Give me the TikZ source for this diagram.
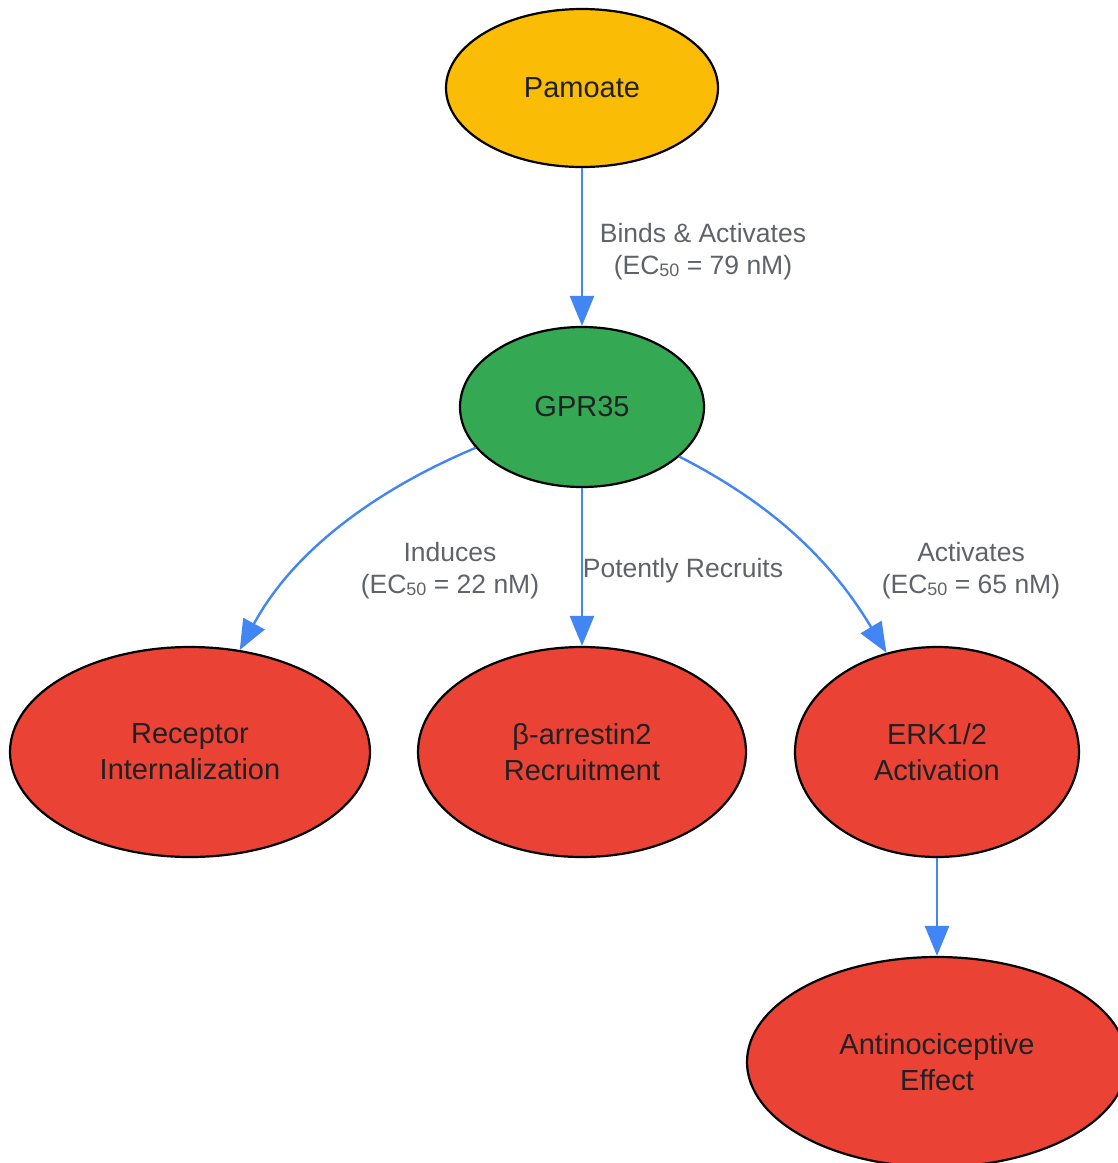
\documentclass[tikz,border=0pt]{standalone}
\usepackage{fontspec}
\setmainfont{Liberation Sans}
\usetikzlibrary{shapes.geometric,arrows.meta}
\tikzset {>={Triangle[length=30pt,width=24pt]}}
\definecolor{gyellow}{HTML}{FBBC05}
\definecolor{ggreen}{HTML}{34A853}
\definecolor{gred}{HTML}{EA4335}
\definecolor{gblue}{HTML}{4285F4}
\definecolor{gtext}{HTML}{202124}
\definecolor{ggray}{HTML}{5F6368}
\newcommand{\ecsub}{EC\raisebox{-1.5pt}{\fontsize{18}{18}\selectfont 50}}
\tikzset{
  ell/.style={ellipse,draw=black,line width=2.2pt,inner sep=0pt,align=center,
    text=gtext,font=\fontsize{29}{36}\selectfont},
  edge/.style={->,draw=gblue,line width=2.4pt},
  lbl/.style={align=center,text=ggray,font=\fontsize{26.5}{32}\selectfont}
}

\begin{document}
\begin{tikzpicture}[x=1pt,y=-1pt]
\useasboundingbox (0,0) rectangle (1118,1163);

\node[ell,fill=gyellow,minimum width=272pt,minimum height=158pt] (pam) at (582,88) {Pamoate};
\node[ell,fill=ggreen,minimum width=244pt,minimum height=160pt] (gpr) at (582,407) {GPR35};

\node[ell,fill=gred,minimum width=360pt,minimum height=210pt] (rec) at (190,752)
  {Receptor\\Internalization};
\node[ell,fill=gred,minimum width=328pt,minimum height=210pt] (arr) at (582,752)
  {β-arrestin2\\Recruitment};
\node[ell,fill=gred,minimum width=284pt,minimum height=210pt] (erk) at (937,752)
  {ERK1/2\\Activation};
\node[ell,fill=gred,minimum width=380pt,minimum height=210pt] (anti) at (937,1062)
  {Antinociceptive\\Effect};

% edges
\draw[edge] (pam.south) -- (gpr.north);
\draw[edge] (gpr.201) .. controls (380,488) and (295,548) .. (rec.64);
\draw[edge] (gpr.south) -- (arr.north);
\draw[edge] (gpr.333) .. controls (760,498) and (825,550) .. (erk.117);
\draw[edge] (erk.south) -- (anti.north);

% edge labels
\node[lbl] (l1) at (703,252) {Binds \& Activates\\(\ecsub{} = 79 nM)};
\node[lbl] (l2) at (450,571) {Induces\\(\ecsub{} = 22 nM)};
\node[lbl] (l3) at (683,571) {Potently Recruits};
\node[lbl] (l4) at (971,571) {Activates\\(\ecsub{} = 65 nM)};

\end{tikzpicture}
\end{document}
